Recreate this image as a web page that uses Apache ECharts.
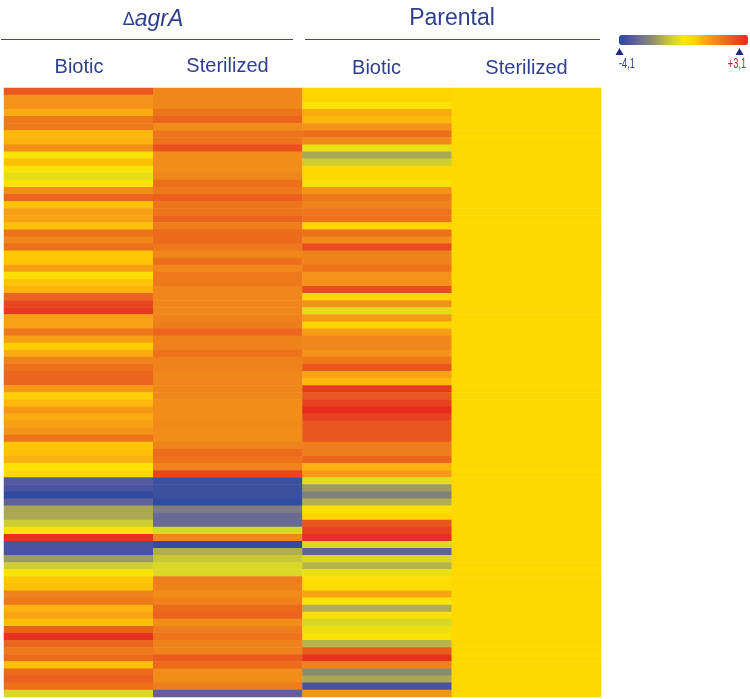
<!DOCTYPE html>
<html>
<head>
<meta charset="utf-8">
<style>html,body{margin:0;padding:0;background:#fff}#c{width:750px;height:699px}</style>
<script src="https://cdn.jsdelivr.net/npm/echarts@6/dist/echarts.min.js"></script>
</head>
<body>
<div id="c"></div>
<script>
const columns = ['ΔagrA Biotic','ΔagrA Sterilized','Parental Biotic','Parental Sterilized'];
const agrBiotic = [2.3,1.1,1.1,0.7,1.6,1.6,0.5,0.6,1.2,-0.4,0.4,-0.4,-0.8,-0.4,1.2,2.0,0.4,0.9,0.8,0.4,1.7,1.3,
  1.8,0.3,0.35,0.9,-0.2,0.35,0.6,2.0,2.6,2.8,0.9,0.9,1.6,0.9,0.2,0.7,1.4,1.8,2.0,2.0,1.0,0.2,
  0.5,1.0,0.7,0.9,1.1,1.7,0.3,0.4,0.6,-0.3,0.0,-3.4,-3.6,-4.0,-3.2,-1.8,-1.8,-1.2,-0.4,3.0,-3.6,-3.6,
  -2.0,-1.2,-0.4,0.3,0.4,1.4,1.6,0.6,0.8,0.4,2.1,3.0,2.0,1.6,1.9,0.4,1.9,2.1,1.8,-1.0];
const agrSterilized = [1.3,1.3,1.3,1.7,2.0,1.2,1.7,1.7,2.4,1.2,1.2,1.2,1.3,1.8,1.6,2.1,1.7,1.7,2.0,1.5,1.9,1.9,
  1.6,1.3,1.8,1.3,1.6,1.6,1.3,1.3,1.3,1.3,1.4,1.5,2.0,1.4,1.4,1.7,1.4,1.4,1.3,1.3,1.3,1.3,
  1.2,1.2,1.2,1.25,1.2,1.2,1.4,1.9,1.7,1.4,2.6,-3.8,-3.8,-3.8,-4.0,-2.6,-3.0,-3.0,-1.0,1.3,-4.0,-1.7,
  -1.3,-1.0,-1.0,1.5,1.4,1.2,1.4,1.9,2.0,1.2,1.5,1.7,1.4,1.4,2.2,1.9,1.2,1.2,1.5,-3.2];
const parBiotic = [0.1,0.1,-0.4,0.7,0.5,1.1,1.8,1.3,-0.7,-1.8,-1.2,0,0,-0.3,1.1,1.6,1.4,1.7,1.7,0.1,1.8,1.2,
  2.5,1.4,1.4,1.7,1.1,1.1,2.5,0.1,1.1,-0.8,1.0,0.1,0.9,1.3,1.3,1.1,1.6,2.3,0.8,0.5,2.8,2.3,
  2.7,3.1,2.7,2.3,2.3,2.3,1.5,1.5,2.0,0.6,1.0,-0.8,-2.0,-2.5,-1.7,-0.3,0.1,2.3,2.7,3.0,-1.0,-3.2,
  -1.0,-1.6,-0.7,-0.2,-0.2,0.8,-0.5,-1.7,-0.3,-1.0,-0.7,-0.4,-1.6,2.2,3.0,1.4,-2.3,-1.8,-3.6,1.1];
const parSterilized = [0,0,0,0,0,0,0,0,0,0,0,0,0,0,0,0,0,0,0,0,0,0,
  0,0,0,0,0,0,0,0,0,0,0,0,0,0,0,0,0,0,0,0,0,0,
  0,0,0,0,0,0,0,0,0,0,0,0,0,0,0,0,0,0,0,0,0,0,
  0,0,0,0,0,0,0,0,0,0,0,0,0,0,0,0,0,0,0,0];
const scaleColors = ['#2b4a9f','#50559f','#6f6f92','#8a8a70','#b0ae50','#d4d42c','#f8e608','#ffd500','#fbab12','#f0871a','#eb6a1c','#e84c20','#e62a20'];
const scaleMin = -4.1, scaleMax = 3.1;

const allColumns = [agrBiotic, agrSterilized, parBiotic, parSterilized];
const rows = agrBiotic.map((_, i) => 'g' + i);
const cells = [];
allColumns.forEach((col, x) => col.forEach((v, y) => cells.push([x, y, v])));

const navy = '#2f3f8f';
const label = (t, x, y, size, extra, scaleX) => ({type:'text', x, y, scaleX:scaleX||1, silent:true,
  style:Object.assign({text:t, fill:navy, font:size+'px "Liberation Sans", Arial, sans-serif', align:'center', verticalAlign:'middle'}, extra||{})});
const rule = (x1, x2) => ({type:'line', silent:true, shape:{x1, y1:39.5, x2, y2:39.5}, style:{stroke:'#3a4a92', lineWidth:1.2}});
const tri = (x) => ({type:'polygon', silent:true, shape:{points:[[x,48],[x+4,55],[x-4,55]]}, style:{fill:'#1f2a80'}});

const chart = echarts.init(document.getElementById('c'), null, {renderer:'canvas'});
chart.setOption({
  animation:false,
  backgroundColor:'#fff',
  grid:{left:4, right:149, top:88, bottom:2, containLabel:false},
  xAxis:{type:'category', data:columns, show:false},
  yAxis:{type:'category', data:rows, inverse:true, show:false},
  visualMap:{type:'continuous', min:scaleMin, max:scaleMax, orient:'horizontal', left:619, top:35,
    itemWidth:10, itemHeight:129, padding:0, calculable:false, realtime:false, text:null, showLabel:false,
    textStyle:{fontSize:0}, inRange:{color:scaleColors}},
  series:[{type:'heatmap', data:cells, progressive:0, itemStyle:{borderWidth:0}, emphasis:{disabled:true}}],
  graphic:{elements:[
    {type:'text', x:153, y:20, silent:true, style:{
      text:'{d|Δ}{i|agrA}', align:'center', verticalAlign:'middle',
      rich:{d:{fill:navy, font:'18px "Liberation Sans", Arial, sans-serif'}, i:{fill:navy, font:'italic 23px "Liberation Sans", Arial, sans-serif'}}}},
    label('Parental', 452, 19, 23),
    rule(1,293), rule(305,600),
    label('Biotic', 79, 67, 20),
    label('Sterilized', 227.5, 66, 20),
    label('Biotic', 376.5, 68, 20),
    label('Sterilized', 526.5, 68, 20),
    tri(619.5), tri(739.5),
    label('-4,1', 627, 64, 15, {}, 0.62),
    label('+3,1', 737, 64, 15, {fill:'#c4202c'}, 0.62)
  ]}
});
</script>
</body>
</html>
